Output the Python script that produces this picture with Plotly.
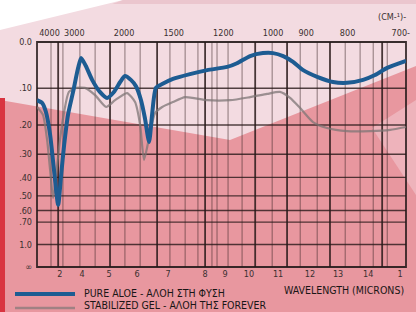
import numpy as np
import plotly.graph_objects as go

# ---- data (wavelength in microns, absorbance) ----
aloe_um = [2.08, 2.25, 2.38, 2.52, 2.65, 2.79, 2.89, 2.99, 3.12, 3.29, 3.46, 3.56, 3.72, 3.93,
           4.19, 4.43, 4.66, 4.87, 5.03, 5.23, 5.40, 5.57, 5.70, 5.84, 5.94, 6.07, 6.28, 6.64,
           7.21, 7.79, 8.46, 8.79, 9.23, 9.66, 10.0, 10.34, 10.67, 11.01, 11.48, 12.01, 12.48,
           13.02, 13.42, 13.83, 14.46]
aloe_abs = [0.130, 0.137, 0.162, 0.231, 0.365, 0.559, 0.388, 0.266, 0.170, 0.109, 0.053, 0.032,
            0.049, 0.080, 0.109, 0.124, 0.109, 0.085, 0.071, 0.080, 0.095, 0.130, 0.179, 0.255,
            0.170, 0.099, 0.090, 0.078, 0.067, 0.058, 0.051, 0.043, 0.028, 0.022, 0.022, 0.028,
            0.040, 0.058, 0.073, 0.085, 0.087, 0.080, 0.069, 0.053, 0.038]

gel_um = [2.08, 2.28, 2.42, 2.52, 2.62, 2.72, 2.85, 2.99, 3.15, 3.39, 3.69, 4.03, 4.40, 4.70,
          5.10, 5.37, 5.54, 5.67, 5.84, 6.04, 6.28, 6.64, 7.05, 7.79, 8.56, 9.23, 9.80, 10.23,
          10.57, 10.91, 11.34, 11.81, 12.48, 13.26, 13.93, 14.46]
gel_abs = [0.148, 0.170, 0.249, 0.365, 0.513, 0.388, 0.249, 0.162, 0.109, 0.099, 0.099, 0.117,
           0.148, 0.130, 0.112, 0.135, 0.200, 0.322, 0.242, 0.165, 0.148, 0.135, 0.122, 0.130,
           0.130, 0.122, 0.114, 0.109, 0.124, 0.151, 0.191, 0.209, 0.219, 0.219, 0.215, 0.206]

series_names = ["PURE ALOE - ΑΛΟΗ ΣΤΗ ΦΥΣΗ", "STABILIZED GEL - ΑΛΟΗ ΤΗΣ FOREVER"]

abs_ticks = [0.0, 0.1, 0.2, 0.3, 0.4, 0.5, 0.6, 0.7, 1.0, np.inf]
abs_labels = ["0.0", ".10", ".20", ".30", ".40", ".50", ".60", ".70", "1.0", "∞"]

wn_ticks = [4000, 3000, 2000, 1500, 1200, 1000, 900, 800, 700]
wn_labels = ["4000", "3000", "2000", "1500", "1200", "1000", "900", "800", "700-"]

micron_labels = ["2", "4", "5", "6", "7", "8", "9", "10", "11", "12", "13", "14", "1"]
micron_label_at = [2.85, 3.59, 4.50, 5.44, 6.48, 7.72, 8.39, 9.19, 10.17, 11.24, 12.18, 13.19, 14.26]

# chart-paper grid (microns)
grid_thin = [2.55, 2.95, 3.52, 4.03, 5.03, 5.54, 6.54, 7.05, 7.48, 7.95, 8.12, 8.49, 8.96,
             9.97, 10.91, 11.48, 12.42, 12.92, 13.36, 13.83]
grid_thick = [2.79, 4.53, 6.11, 7.72, 9.40, 10.47, 11.91, 13.66]

X_RANGE = [2.08, 14.46]

def trans(a):
    return [float(10 ** (-v)) for v in a]

W, H = 416, 312
L, R, T, B = 37, 10, 42, 45
PW, PH = W - L - R, H - T - B

def P(px, py):
    return (px - L) / PW, (H - B - py) / PH

def poly(pts):
    s = ""
    for i, (a, b) in enumerate(pts):
        x, y = P(a, b)
        s += ("M" if i == 0 else "L") + f"{x:.4f},{y:.4f} "
    return s + "Z"

FONT = "DejaVu Sans Condensed, Liberation Sans Narrow, Arial Narrow, Liberation Sans, sans-serif"

shapes = []
# background artwork
bgs = [
    ([(0, 0), (123, 0), (0, 30)], "#ffffff"),
    ([(123, 0), (416, 0), (416, 4), (112, 4)], "#ebc6ce"),
    ([(0, 100), (230, 140), (416, 66), (416, 312), (0, 312)], "#e8979f"),
    ([(372, 128), (416, 100), (416, 195)], "#eeb3bb"),
    ([(0, 98), (5, 98), (5, 312), (0, 312)], "#d93440"),
]
for pts, col in bgs:
    shapes.append(dict(type="path", xref="paper", yref="paper", path=poly(pts),
                       fillcolor=col, line=dict(width=0), layer="below"))

# grid
for v in grid_thin:
    shapes.append(dict(type="line", xref="x", yref="paper", x0=v, x1=v, y0=0, y1=1,
                       line=dict(color="rgba(55,35,35,0.55)", width=1), layer="below"))
for v in grid_thick:
    shapes.append(dict(type="line", xref="x", yref="paper", x0=v, x1=v, y0=0, y1=1,
                       line=dict(color="rgba(40,25,25,0.85)", width=1.8), layer="below"))
for i, a in enumerate(abs_ticks[1:-1]):
    t = float(10 ** (-a))
    shapes.append(dict(type="line", xref="paper", yref="y", x0=0, x1=1, y0=t, y1=t,
                       line=dict(color="rgba(40,25,25,0.8)", width=1.6 if i < 3 else 1.3),
                       layer="below"))
shapes.append(dict(type="rect", xref="paper", yref="paper", x0=0, x1=1, y0=0, y1=1,
                   line=dict(color="rgba(35,25,25,0.9)", width=1.8), layer="below"))

# legend swatches
for (py, col, w) in [(294, "#1d5c92", 4), (308, "rgba(130,120,120,0.7)", 2.5)]:
    x0, y0 = P(15, py)
    x1, _ = P(75, py)
    shapes.append(dict(type="line", xref="paper", yref="paper", x0=x0, x1=x1, y0=y0, y1=y0,
                       line=dict(color=col, width=w)))

annotations = []
for (py, txt) in [(293, series_names[0]), (305, series_names[1])]:
    x, y = P(82, py)
    annotations.append(dict(xref="paper", yref="paper", x=x, y=y, text=txt, showarrow=False,
                            xanchor="left", yanchor="middle",
                            font=dict(family=FONT, size=10.5, color="#1a1616")))
x, y = P(406, 290)
annotations.append(dict(xref="paper", yref="paper", x=x, y=y, text="WAVELENGTH (MICRONS)",
                        showarrow=False, xanchor="right", yanchor="middle",
                        font=dict(family=FONT, size=10.5, color="#1a1616")))
x, y = P(408, 17)
annotations.append(dict(xref="paper", yref="paper", x=x, y=y, text="(CM-¹)-",
                        showarrow=False, xanchor="right", yanchor="middle",
                        font=dict(family=FONT, size=9, color="#3a3030")))

fig = go.Figure()
fig.add_trace(go.Scatter(x=gel_um, y=trans(gel_abs), mode="lines", name=series_names[1],
                         line=dict(color="rgba(125,118,118,0.75)", width=2.2, shape="spline",
                                   smoothing=0.6),
                         showlegend=False))
fig.add_trace(go.Scatter(x=aloe_um, y=trans(aloe_abs), mode="lines", name=series_names[0],
                         line=dict(color="#1d5c92", width=4, shape="spline", smoothing=0.6),
                         showlegend=False))
# invisible trace to activate the top axis
fig.add_trace(go.Scatter(x=[aloe_um[0]], y=[None], xaxis="x2", showlegend=False,
                         hoverinfo="skip"))

fig.update_layout(
    width=W, height=H, autosize=False,
    margin=dict(l=L, r=R, t=T, b=B, autoexpand=False),
    paper_bgcolor="#f3dbe1", plot_bgcolor="rgba(0,0,0,0)",
    shapes=shapes, annotations=annotations,
    xaxis=dict(range=X_RANGE, showgrid=False, zeroline=False, showline=False, automargin=False,
               tickmode="array", tickvals=micron_label_at, ticktext=micron_labels,
               ticks="", tickfont=dict(family=FONT, size=9, color="#3a3030")),
    xaxis2=dict(range=X_RANGE, overlaying="x", side="top", matches="x", showgrid=False,
                zeroline=False, showline=False, tickmode="array", automargin=False,
                tickvals=[10000.0 / w for w in wn_ticks], ticktext=wn_labels, ticks="",
                ticklabelstandoff=3,
                tickfont=dict(family=FONT, size=9, color="#3a3030")),
    yaxis=dict(range=[0, 1], showgrid=False, zeroline=False, showline=False, automargin=False,
               tickmode="array", tickvals=trans(abs_ticks), ticktext=abs_labels, ticks="",
               ticklabelstandoff=4,
               tickfont=dict(family=FONT, size=9, color="#3a3030")),
    font=dict(family=FONT),
)

fig.write_html(
    "out.html",
    config={"displayModeBar": False},
    post_script="document.body.style.margin='0px';document.body.style.padding='0px';"
                "document.body.style.overflow='hidden';",
)
